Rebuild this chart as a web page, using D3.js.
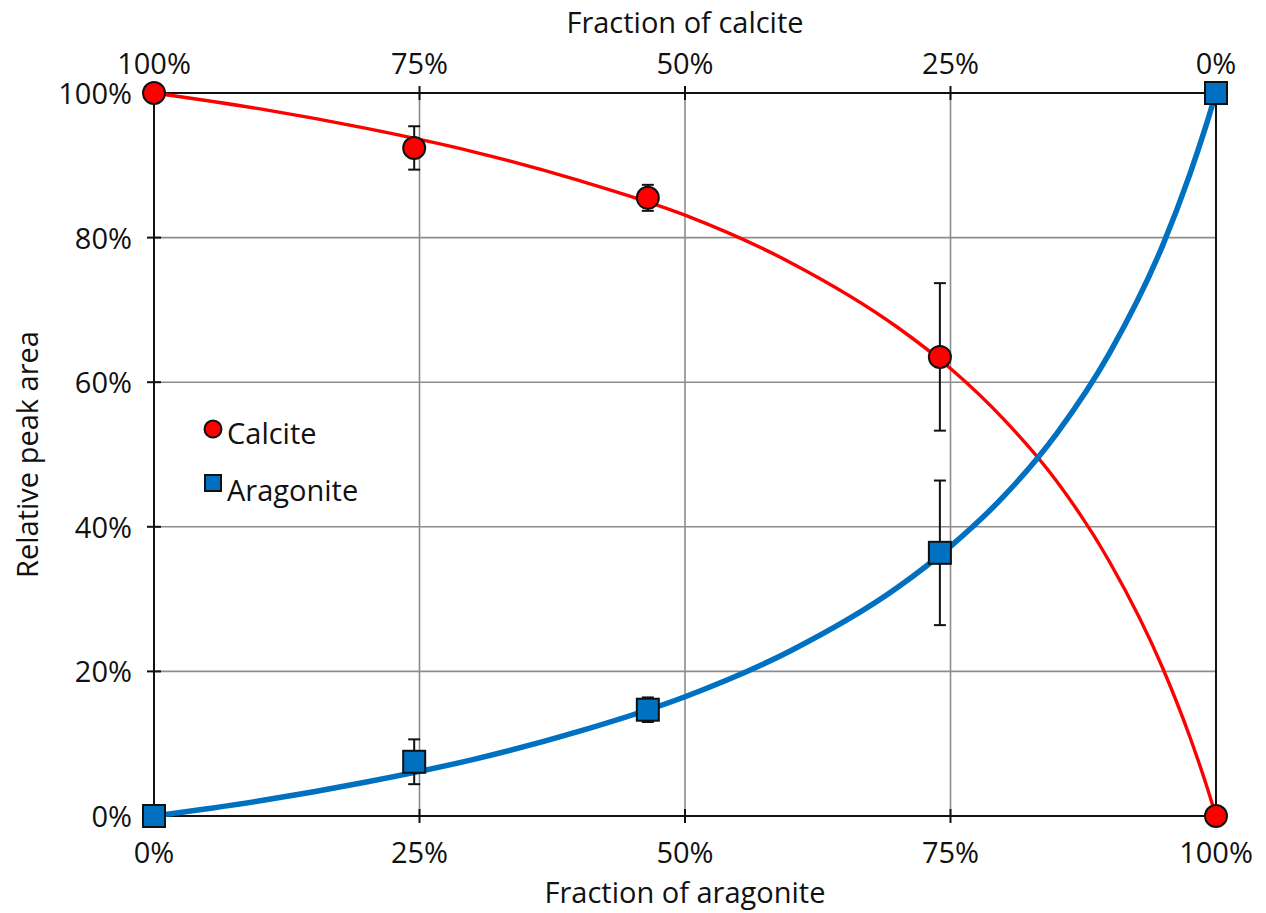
<!DOCTYPE html>
<html>
<head>
<meta charset="utf-8">
<script src="https://cdn.jsdelivr.net/npm/d3@7"></script>
<style>
  html, body { margin: 0; padding: 0; background: #fff; }
  svg text { font-family: "Open Sans", "Liberation Sans", sans-serif; fill: #111; }
</style>
</head>
<body>
<svg id="chart" width="1266" height="913"></svg>
<script>
// ---- Data ----
const xTicks = [0, 0.25, 0.5, 0.75, 1.0];
const yTicks = [0, 0.2, 0.4, 0.6, 0.8, 1.0];

// measured points (fraction of aragonite)
const pointX = [0, 0.245, 0.465, 0.74, 1.0];
const calcite = [1.0, 0.924, 0.855, 0.635, 0];
const calciteErr = [0, 0.030, 0.018, 0.102, 0];
const aragonite = [0, 0.075, 0.147, 0.364, 1.0];
const aragoniteErr = [0, 0.031, 0.017, 0.100, 0];

// fitted curves
const curveX = [0, 0.1, 0.2, 0.3, 0.4, 0.5, 0.6, 0.7, 0.75, 0.8, 0.85, 0.9, 0.95, 0.975, 0.99, 1.0];
const calciteCurve = [1.0, 0.978, 0.951, 0.919, 0.879, 0.831, 0.765, 0.676, 0.619, 0.549, 0.463, 0.351, 0.204, 0.111, 0.047, 0];
const aragoniteCurve = [0, 0.021, 0.047, 0.078, 0.117, 0.165, 0.229, 0.316, 0.373, 0.442, 0.529, 0.641, 0.790, 0.886, 0.952, 1.0];

// ---- Layout ----
const svg = d3.select("#chart");
const L = 154, R = 1216, T = 93, B = 816;
const x = d3.scaleLinear().domain([0, 1]).range([L, R]);
const xTop = d3.scaleLinear().domain([1, 0]).range([L, R]);
const y = d3.scaleLinear().domain([0, 1]).range([B, T]);
const pct = d3.format(".0%");

// grid
svg.append("g").selectAll("line").data(xTicks.slice(1, -1)).join("line")
  .attr("x1", d => x(d)).attr("x2", d => x(d)).attr("y1", T).attr("y2", B)
  .attr("stroke", "#8c8c8c").attr("stroke-width", 1.6);
svg.append("g").selectAll("line").data(yTicks.slice(1, -1)).join("line")
  .attr("y1", d => y(d)).attr("y2", d => y(d)).attr("x1", L).attr("x2", R)
  .attr("stroke", "#8c8c8c").attr("stroke-width", 1.6);

// border
svg.append("rect").attr("x", L).attr("y", T).attr("width", R - L).attr("height", B - T)
  .attr("fill", "none").attr("stroke", "#111").attr("stroke-width", 2);

// cross ticks
const tk = 7;
svg.append("g").selectAll("line").data(xTicks).join("line")
  .attr("x1", d => x(d)).attr("x2", d => x(d)).attr("y1", B - tk).attr("y2", B + tk)
  .attr("stroke", "#111").attr("stroke-width", 2);
svg.append("g").selectAll("line").data(xTicks).join("line")
  .attr("x1", d => xTop(d)).attr("x2", d => xTop(d)).attr("y1", T - tk).attr("y2", T + tk)
  .attr("stroke", "#111").attr("stroke-width", 2);
svg.append("g").selectAll("line").data(yTicks).join("line")
  .attr("x1", L - tk).attr("x2", L + tk).attr("y1", d => y(d)).attr("y2", d => y(d))
  .attr("stroke", "#111").attr("stroke-width", 2);

// tick labels
const fs = 29;
svg.append("g").selectAll("text").data(xTicks).join("text")
  .attr("x", d => x(d)).attr("y", B + 47).attr("text-anchor", "middle")
  .attr("font-size", fs).text(d => pct(d));
svg.append("g").selectAll("text").data(xTicks).join("text")
  .attr("x", d => xTop(d)).attr("y", T - 19).attr("text-anchor", "middle")
  .attr("font-size", fs).text(d => pct(d));
svg.append("g").selectAll("text").data(yTicks).join("text")
  .attr("x", L - 22).attr("y", d => y(d) + 11).attr("text-anchor", "end")
  .attr("font-size", fs).text(d => pct(d));

// axis titles
svg.append("text").attr("x", x(0.5)).attr("y", 903).attr("text-anchor", "middle")
  .attr("font-size", fs).text("Fraction of aragonite");
svg.append("text").attr("x", x(0.5)).attr("y", 33).attr("text-anchor", "middle")
  .attr("font-size", fs).text("Fraction of calcite");
svg.append("text").attr("transform", `translate(38,${(T + B) / 2}) rotate(-90)`)
  .attr("text-anchor", "middle").attr("font-size", fs).text("Relative peak area");

// curves
const line = d3.line().x(d => x(d[0])).y(d => y(d[1])).curve(d3.curveMonotoneX);
svg.append("path").datum(curveX.map((v, i) => [v, calciteCurve[i]]))
  .attr("d", line).attr("fill", "none").attr("stroke", "#ff0000").attr("stroke-width", 3.4);
svg.append("path").datum(curveX.map((v, i) => [v, aragoniteCurve[i]]))
  .attr("d", line).attr("fill", "none").attr("stroke", "#0070c0").attr("stroke-width", 5.5);

// error bars
function errBars(vals, errs) {
  const g = svg.append("g").attr("stroke", "#111").attr("stroke-width", 2);
  pointX.forEach((px, i) => {
    if (!errs[i]) return;
    const cx = x(px), y1 = y(vals[i] + errs[i]), y2 = y(vals[i] - errs[i]);
    g.append("line").attr("x1", cx).attr("x2", cx).attr("y1", y1).attr("y2", y2);
    g.append("line").attr("x1", cx - 6).attr("x2", cx + 6).attr("y1", y1).attr("y2", y1);
    g.append("line").attr("x1", cx - 6).attr("x2", cx + 6).attr("y1", y2).attr("y2", y2);
  });
}
errBars(calcite, calciteErr);
errBars(aragonite, aragoniteErr);

// markers
svg.append("g").selectAll("circle").data(pointX).join("circle")
  .attr("cx", d => x(d)).attr("cy", (d, i) => y(calcite[i])).attr("r", 11)
  .attr("fill", "#ff0000").attr("stroke", "#111").attr("stroke-width", 2);
const sq = 22;
svg.append("g").selectAll("rect").data(pointX).join("rect")
  .attr("x", d => x(d) - sq / 2).attr("y", (d, i) => y(aragonite[i]) - sq / 2)
  .attr("width", sq).attr("height", sq)
  .attr("fill", "#0070c0").attr("stroke", "#111").attr("stroke-width", 2);

// legend
const lg = svg.append("g");
lg.append("circle").attr("cx", 213).attr("cy", 429).attr("r", 8.5)
  .attr("fill", "#ff0000").attr("stroke", "#111").attr("stroke-width", 2);
lg.append("text").attr("x", 227).attr("y", 444).attr("font-size", fs).text("Calcite");
lg.append("rect").attr("x", 205).attr("y", 475).attr("width", 16).attr("height", 16)
  .attr("fill", "#0070c0").attr("stroke", "#111").attr("stroke-width", 2);
lg.append("text").attr("x", 227).attr("y", 501).attr("font-size", fs).text("Aragonite");
</script>
</body>
</html>
